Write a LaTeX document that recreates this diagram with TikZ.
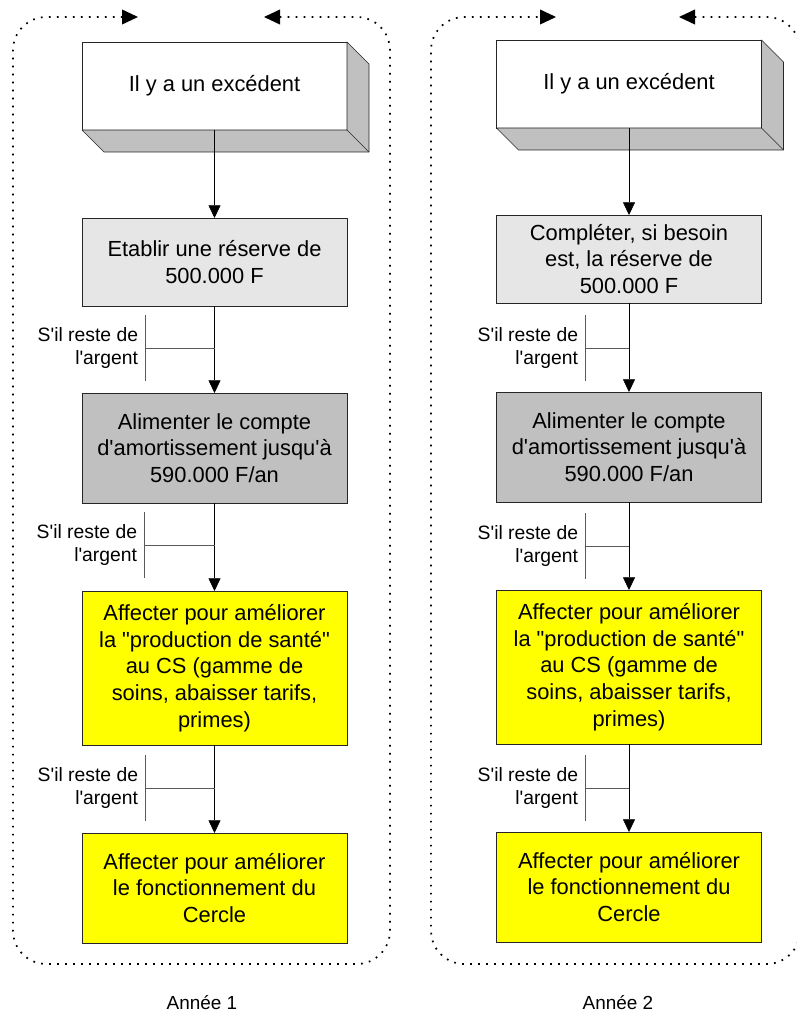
\documentclass[tikz,border=0pt]{standalone}
\usepackage{fontspec}
\setmainfont{Liberation Sans}[Ligatures=TeXOff]
\usetikzlibrary{arrows.meta,positioning}
\definecolor{lightbox}{HTML}{E6E6E6}
\definecolor{midbox}{HTML}{C0C0C0}
\definecolor{sidegray}{HTML}{C0C0C0}
\definecolor{hilite}{HTML}{FFFF00}
\definecolor{rulegray}{HTML}{5A5A5A}
\tikzset{line width=.75pt,
  every node/.style={font=\fontsize{16.4}{20}\selectfont},
  box/.style={draw=black!85,align=center,minimum width=198.75pt,inner sep=0pt,outer sep=0pt},
  face/.style={fill=sidegray,draw=black!85,line join=round},
  flow/.style={-{Triangle[length=9.5pt,width=9pt]},draw=black},
  bracket/.style={draw=rulegray},
  cond/.style={font=\fontsize{14.5}{17.5}\selectfont,align=right,inner sep=0pt},
  yearlbl/.style={font=\fontsize{14.2}{17}\selectfont,inner sep=0pt},
  frame/.style={line width=1.3pt,dash pattern=on 1.3pt off 4.7pt,rounded corners=25pt,
    {Triangle[length=12pt,width=11pt]}-{Triangle[length=12pt,width=11pt]}}}
\begin{document}
\begin{tikzpicture}[x=.75pt,y=-.75pt]
\useasboundingbox (0,0) rectangle (796,1012);
% cycle frames
\draw[frame] (264,17) -- (390,17) -- (390,964) -- (13,964) -- (13,17) -- (138,17);
\draw[frame] (679,17) -- (800,17) -- (800,964) -- (431,964) -- (431,17) -- (556,17);
% Annee 1
\node[box,fill=white,minimum height=66pt] (l1) at (214.5,86) {Il y a un excédent};
\filldraw[face] (l1.south west) -- (l1.south east) -- (l1.north east) -- ++(22,22) -- ++(0,88) -- ++(-265,0) -- cycle;
\draw[black!85] (l1.south east) -- ++(22,22);
\node[box,fill=lightbox,minimum height=66pt] (l2) at (214.5,262) {Etablir une réserve de\\500.000 F};
\node[box,fill=midbox,minimum height=82.5pt] (l3) at (214.5,448) {Alimenter le compte\\d'amortissement jusqu'à\\590.000 F/an};
\node[box,fill=hilite,minimum height=115.5pt] (l4) at (214.5,668) {Affecter pour améliorer\\la "production de santé"\\au CS (gamme de\\soins, abaisser tarifs,\\primes)};
\node[box,fill=hilite,minimum height=82.5pt] (l5) at (214.5,888) {Affecter pour améliorer\\le fonctionnement du\\Cercle};
\draw[flow] (l1) -- (l2);\draw[flow] (l2) -- (l3);\draw[flow] (l3) -- (l4);\draw[flow] (l4) -- (l5);
\coordinate (la) at (145,348);\coordinate (lb) at (144,545);\coordinate (lc) at (145,788);
\draw[bracket] (la) ++(0,-33) -- ++(0,66);\draw[bracket] (la) -- (la -| l2.south);
\draw[bracket] (lb) ++(0,-33) -- ++(0,66);\draw[bracket] (lb) -- (lb -| l3.south);
\draw[bracket] (lc) ++(0,-33) -- ++(0,66);\draw[bracket] (lc) -- (lc -| l4.south);
\node[cond,left=5pt of la] (lal) {S'il reste de\\l'argent};
\node[cond,left=5pt of lb] (lbl) {S'il reste de\\l'argent};
\node[cond,left=5pt of lc] (lcl) {S'il reste de\\l'argent};
\node[yearlbl] (y1) at (202,1003) {Année 1};
% Annee 2
\node[box,fill=white,minimum height=66pt] (r1) at (629,84) {Il y a un excédent};
\filldraw[face] (r1.south west) -- (r1.south east) -- (r1.north east) -- ++(22,22) -- ++(0,88) -- ++(-265,0) -- cycle;
\draw[black!85] (r1.south east) -- ++(22,22);
\node[box,fill=lightbox,minimum height=66pt] (r2) at (629,259) {Compléter, si besoin\\est, la réserve de\\500.000 F};
\node[box,fill=midbox,minimum height=82.5pt] (r3) at (629,447) {Alimenter le compte\\d'amortissement jusqu'à\\590.000 F/an};
\node[box,fill=hilite,minimum height=115.5pt] (r4) at (629,667) {Affecter pour améliorer\\la "production de santé"\\au CS (gamme de\\soins, abaisser tarifs,\\primes)};
\node[box,fill=hilite,minimum height=82.5pt] (r5) at (629,887) {Affecter pour améliorer\\le fonctionnement du\\Cercle};
\draw[flow] (r1) -- (r2);\draw[flow] (r2) -- (r3);\draw[flow] (r3) -- (r4);\draw[flow] (r4) -- (r5);
\coordinate (ra) at (585,348);\coordinate (rb) at (585,546);\coordinate (rc) at (585,788);
\draw[bracket] (ra) ++(0,-33) -- ++(0,66);\draw[bracket] (ra) -- (ra -| r2.south);
\draw[bracket] (rb) ++(0,-33) -- ++(0,66);\draw[bracket] (rb) -- (rb -| r3.south);
\draw[bracket] (rc) ++(0,-33) -- ++(0,66);\draw[bracket] (rc) -- (rc -| r4.south);
\node[cond,left=5pt of ra] (ral) {S'il reste de\\l'argent};
\node[cond,left=5pt of rb] (rbl) {S'il reste de\\l'argent};
\node[cond,left=5pt of rc] (rcl) {S'il reste de\\l'argent};
\node[yearlbl] (y2) at (618,1003) {Année 2};
\end{tikzpicture}
\end{document}
